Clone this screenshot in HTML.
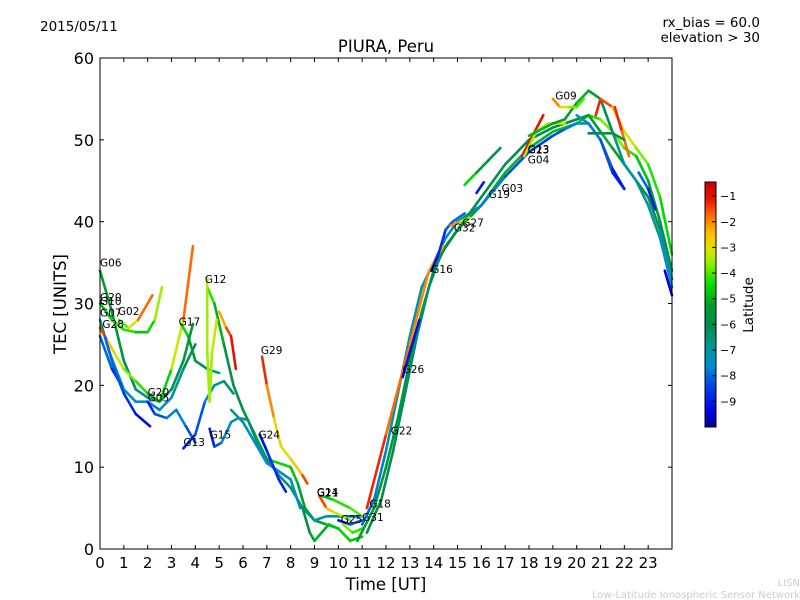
<!DOCTYPE html>
<html><head><meta charset="utf-8"><style>
body{margin:0;background:#fff;}
svg{display:block;font-family:"DejaVu Sans","Liberation Sans",sans-serif;}
</style></head><body>
<svg id="c" width="800" height="600" viewBox="0 0 800 600">
<defs><linearGradient id="jet" x1="0" y1="1" x2="0" y2="0"></linearGradient></defs>
<text x="40" y="31" font-size="13.5">2015/05/11</text>
<text x="760" y="27" font-size="13.5" text-anchor="end">rx_bias = 60.0</text>
<text x="760" y="42" font-size="13.5" text-anchor="end">elevation &gt; 30</text>
<text x="386" y="52" font-size="16.5" text-anchor="middle">PIURA, Peru</text>
<text x="386" y="590" font-size="16.5" text-anchor="middle">Time [UT]</text>
<text x="0" y="0" font-size="16.5" text-anchor="middle" transform="translate(66,304) rotate(-90)">TEC [UNITS]</text>
<g id="plot"></g>
<rect x="100" y="58" width="572" height="491" fill="none" stroke="#000" stroke-width="1"/>
<g id="axes"></g>
<rect x="705" y="182" width="11" height="245" fill="url(#jet)" stroke="#000" stroke-width="1"/>
<g id="cbticks"></g>
<text x="0" y="0" font-size="13.5" text-anchor="middle" transform="translate(753,305) rotate(-90)">Latitude</text>
<text x="800" y="586" font-size="10" fill="#ccc" text-anchor="end">LISN</text>
<text x="800" y="598" font-size="10" fill="#ccc" text-anchor="end">Low-Latitude Ionospheric Sensor Network</text>
</svg>
<script>
const xTicks=[0,1,2,3,4,5,6,7,8,9,10,11,12,13,14,15,16,17,18,19,20,21,22,23];
const yTicks=[0,10,20,30,40,50,60];
const cbTicks=[-1,-2,-3,-4,-5,-6,-7,-8,-9];
const latMin=-10, latMax=-0.45;
// each track: [hour, tec, latitude]
const tracks=[
[[0,34,-5],[0.5,29,-5.5],[1,23,-6],[1.5,19.5,-6.5],[2,18.5,-6.8],[2.5,18,-7],[3,19.5,-6.5],[3.5,23,-6],[3.9,27.5,-5]],
[[0,30,-5],[0.5,28,-4.5],[1,26.8,-4],[1.5,26.5,-4.5],[2,26.5,-5],[2.3,28,-4],[2.6,32,-3]],
[[0.8,28,-4],[1.2,27,-3.8],[1.6,28,-2.5],[2.2,31,-1]],
[[0,28,-6],[0.4,24,-7],[1,19.5,-7.5],[1.5,18,-7.5],[2,18,-7.5],[2.5,17,-8],[3,18.5,-7],[3.5,22,-6.5],[4,25,-6]],
[[0,27,-1],[0.3,25.5,-2],[0.6,24,-3],[1,22,-3.5],[1.5,20.5,-4],[2,19,-4.5],[2.5,18,-5],[3,22,-4],[3.5,28,-2.5],[3.9,37,-1]],
[[0,26,-7.5],[0.5,22,-8.5],[0.9,20,-9]],
[[0.2,26,-8],[0.6,22,-8],[1,19,-8.5],[1.5,16.5,-9],[2.1,15,-9.5]],
[[2,18,-9],[2.3,16.5,-8.5],[2.8,16,-8],[3.2,17,-7.5],[3.6,15,-8],[4,13,-8.5]],
[[3.5,12.3,-9.5],[4,14,-8.5],[4.4,18,-8],[4.8,20,-7],[5.2,20.5,-6.5],[5.6,19,-6.5]],
[[3.4,27.5,-4],[3.7,26,-5],[4,23,-6],[4.5,22,-6.5],[5,21.5,-7]],
[[4.5,32,-4],[4.8,30,-4.5],[5.2,25,-5.5],[5.6,20,-6],[6,17,-6],[6.5,14,-5],[7,11,-4.5],[7.5,10.5,-4.5],[8,10,-4.5],[8.3,8,-5],[8.6,5,-5.5],[9,3.5,-5.5],[9.5,3,-5],[10,2.5,-4.5],[10.5,1,-4.5],[11,1.5,-5]],
[[4.5,33,-3.5],[4.5,24,-3.5],[4.6,18,-3.5],[4.7,24,-3.5],[4.9,28,-3]],
[[5,29,-2.5],[5.3,27,-2],[5.5,26,-1],[5.7,22,-1]],
[[4.6,14.7,-9.5],[4.8,12.5,-8.5],[5.1,13,-8],[5.5,15.5,-7],[5.8,16,-7],[6.2,15.8,-6.5],[6.6,13,-6.5],[7,11,-6.5],[7.5,9,-6.5],[8,7.5,-6.5],[8.5,5,-6.5],[9,3.5,-7],[9.5,4,-7],[10,4,-7.5],[10.5,4,-8],[11,4,-8]],
[[5.5,17,-7],[6,15.5,-7],[6.5,13,-7.5],[7,10.5,-7.5],[7.5,9.5,-7.5],[8,8.5,-7.5],[8.4,5,-7]],
[[6.7,14,-9.5],[7,12,-9],[7.5,8.5,-8.5],[7.8,7,-9.2]],
[[6.8,23.5,-1],[7,20,-1.5],[7.3,16,-2.5],[7.6,12.5,-3],[8,11,-3],[8.5,9,-2],[8.7,8,-1]],
[[8.5,5,-6],[8.8,2,-5.5],[9,1,-5],[9.3,2,-5],[9.6,3,-5],[10,2.5,-4.5]],
[[9.2,6.5,-1],[9.5,5,-2],[9.8,4.5,-3],[10.2,4,-3.5],[10.5,3.5,-4]],
[[9.3,6.5,-5],[9.8,6,-4.5],[10.5,5,-4],[11,4,-4]],
[[10,3.5,-9.5],[10.5,3,-8.5],[11,3.5,-8]],
[[10.2,3,-3.5],[10.6,2,-4],[11,2.5,-4.5]],
[[10.8,1,-5],[11.5,5,-5.5],[12,10,-5.5],[12.5,16,-5.5],[13,23,-5.5],[13.5,29,-5.5],[14,34,-5.5],[14.5,37,-5.5],[15,39,-5.5],[16,42,-5],[17,46,-5],[18,49,-5],[19,51,-5],[20,52,-4.5],[20.5,53,-4.5],[21,52.5,-4],[21.5,51,-3.5],[22,49,-4],[22.5,48,-4.5],[23,45,-5],[23.5,40,-5.5],[24,34,-6]],
[[11,3,-8],[11.5,6,-8],[12,12,-7.5],[12.5,19,-7],[13,26,-7],[13.5,32,-7],[14,35,-7],[14.5,38,-7.5],[15,40,-7.5],[16,42,-7.5],[17,45.5,-8],[18,48.5,-8.5],[19,50.5,-8.5],[19.5,51.3,-8],[20,52,-7.5],[20.5,52,-7.5],[21,50,-8],[21.5,46,-8.5],[22,44,-9]],
[[11.2,2,-6],[11.8,6,-6],[12.3,12,-6.2],[12.8,19,-6.2],[13.3,26,-6.5],[13.8,32,-6.5],[14.3,36,-6],[15,39,-6],[16,43,-6],[17,47,-6],[18,50,-6],[19,51.5,-6],[20,52.5,-6],[20.5,53,-5.5],[21,51,-5],[21.5,49,-5],[22,47,-5.5],[22.5,45,-6],[23,43,-6],[23.5,39,-6.5],[24,33,-7]],
[[11.2,5,-1],[12,14,-1.5],[13,25,-2],[13.8,34,-2],[14.4,37,-2.5]],
[[12.7,21,-9.5],[13.2,26,-9],[13.4,28,-9.5]],
[[13.9,34,-9.5],[14.2,36,-9],[14.5,39,-8.5],[14.8,40,-8],[15.3,41,-8]],
[[14.7,39.5,-1],[15.1,40,-3],[15.5,40.5,-4]],
[[15.3,44.5,-4],[15.8,46,-5],[16.3,47.5,-6],[16.8,49,-6.5]],
[[15.8,43.5,-9],[16.1,44.8,-9]],
[[17.7,48,-1],[18.6,53,-1]],
[[17.8,48,-3.5],[18.3,51,-3.5],[18.8,52,-3.5],[19.5,52,-3]],
[[18,50.5,-5],[19,52,-5],[19.5,52.5,-5.5],[20,54.5,-5],[20.5,56,-5],[21,55,-6],[21.5,51,-6.5],[22,47,-7],[22.5,45,-7],[23,42,-6.5],[23.5,38,-7],[24,32,-8]],
[[19,55,-1.5],[19.3,54,-2.5],[19.7,54,-3.5],[20,54,-4],[20.3,55,-4]],
[[20.8,53,-1.5],[21,55,-1],[21.5,54,-2],[22,51,-3],[22.5,49,-3.5],[23,47,-4],[23.5,43,-4.5],[24,36,-4.5]],
[[21.6,54,-1],[21.9,51,-1.5],[22.2,48,-2]],
[[20,53,-7],[20.5,52,-7.5],[21,50,-8],[21.5,46.5,-8.5],[22,44,-9.5]],
[[20.5,50.8,-6],[21.5,50.8,-6],[22,50,-5.5]],
[[22.6,46,-7.5],[23,44,-8.5],[23.3,41.5,-9.5]],
[[23.7,34,-9.5],[24,31,-9.5]]
];
const labelText=["G06","G20","G10","G07","G02","G28","G17","G12","G29","G20","G05","G13","G15","G24","G14","G21","G25","G31","G18","G22","G26","G16","G32","G27","G19","G03","G23","G13","G04","G09"];
const labelH=[0,0,0,0,0.75,0.1,3.3,4.4,6.75,2,2,3.5,4.6,6.65,9.1,9.1,10.1,11,11.3,12.2,12.7,13.9,14.85,15.2,16.3,16.85,17.95,17.95,17.95,19.1];
const labelV=[34.5,30.3,29.8,28.4,28.6,27,27.3,32.5,23.8,18.7,18,12.6,13.5,13.5,6.5,6.4,3.2,3.4,5.1,14,21.5,33.7,38.8,39.4,42.9,43.6,48.3,48.4,47.1,54.9];
const X=h=>100+h*572/24, Y=v=>549-v*491/60;
const NS="http://www.w3.org/2000/svg";
const cmapStops=[[0,[0,0,140]],[0.06,[0,0,230]],[0.17,[0,70,230]],[0.25,[0,140,210]],[0.33,[0,150,150]],[0.41,[0,140,80]],[0.5,[0,160,40]],[0.58,[0,220,0]],[0.66,[130,240,0]],[0.72,[220,230,0]],[0.79,[255,190,0]],[0.86,[255,110,0]],[0.93,[235,20,0]],[1,[200,0,0]]];
function cmap(t){t=Math.max(0,Math.min(1,t));
 for(let i=0;i<cmapStops.length-1;i++){const a=cmapStops[i],b=cmapStops[i+1];
  if(t<=b[0]){const f=(t-a[0])/(b[0]-a[0]);const c=a[1].map((v,k)=>Math.round(v+(b[1][k]-v)*f));return `rgb(${c[0]},${c[1]},${c[2]})`;}}
 return 'rgb(200,0,0)';}
const grad=document.getElementById('jet');
cmapStops.forEach(s=>{const st=document.createElementNS(NS,'stop');st.setAttribute('offset',s[0]);st.setAttribute('stop-color',`rgb(${s[1].join(',')})`);grad.appendChild(st);});
const col=l=>cmap((l-latMin)/(latMax-latMin));
const plot=document.getElementById('plot');
tracks.forEach((tr,ti)=>{
 const g=document.createElementNS(NS,'g');
 
 
 for(let i=0;i<tr.length-1;i++){
  const a=tr[i],b=tr[i+1];
  const ln=document.createElementNS(NS,'line');
  ln.setAttribute('x1',X(a[0]));ln.setAttribute('y1',Y(a[1]));
  ln.setAttribute('x2',X(b[0]));ln.setAttribute('y2',Y(b[1]));
  ln.setAttribute('stroke',col((a[2]+b[2])/2));
  ln.setAttribute('stroke-width','2.6');ln.setAttribute('stroke-linecap','round');
  
  
  g.appendChild(ln);
 }
 plot.appendChild(g);
});
labelText.forEach((s,i)=>{
 const t=document.createElementNS(NS,'text');
 t.setAttribute('x',X(labelH[i]));t.setAttribute('y',Y(labelV[i]));
 t.setAttribute('font-size','10.5');t.textContent=s;
 
 
 plot.appendChild(t);
});
const axes=document.getElementById('axes');
function add(tag,attrs,parent,txt){const e=document.createElementNS(NS,tag);for(const k in attrs)e.setAttribute(k,attrs[k]);if(txt!==undefined)e.textContent=txt;parent.appendChild(e);return e;}
xTicks.forEach(h=>{
 const x=X(h);
 const a=add('line',{x1:x,y1:549,x2:x,y2:545,stroke:'#000'},axes);
 
 
 const b=add('line',{x1:x,y1:58,x2:x,y2:62,stroke:'#000'},axes);
 
 
 const t=add('text',{x:x,y:568,'font-size':'15','text-anchor':'middle'},axes,String(h));
 
 
});
yTicks.forEach(v=>{
 const y=Y(v);
 const a=add('line',{x1:100,y1:y,x2:104,y2:y,stroke:'#000'},axes);
 
 
 const b=add('line',{x1:672,y1:y,x2:668,y2:y,stroke:'#000'},axes);
 
 
 const t=add('text',{x:94,y:y+6,'font-size':'16','text-anchor':'end'},axes,String(v));
 
 
});
const cb=document.getElementById('cbticks');
cbTicks.forEach(l=>{
 const y=182+(latMax-l)/(latMax-latMin)*245;
 const a=add('line',{x1:716,y1:y,x2:712,y2:y,stroke:'#000'},cb);
 
 
 const t=add('text',{x:720,y:y+4,'font-size':'11'},cb,'\u2212'+Math.abs(l));
 
 
});
</script>
</body></html>
